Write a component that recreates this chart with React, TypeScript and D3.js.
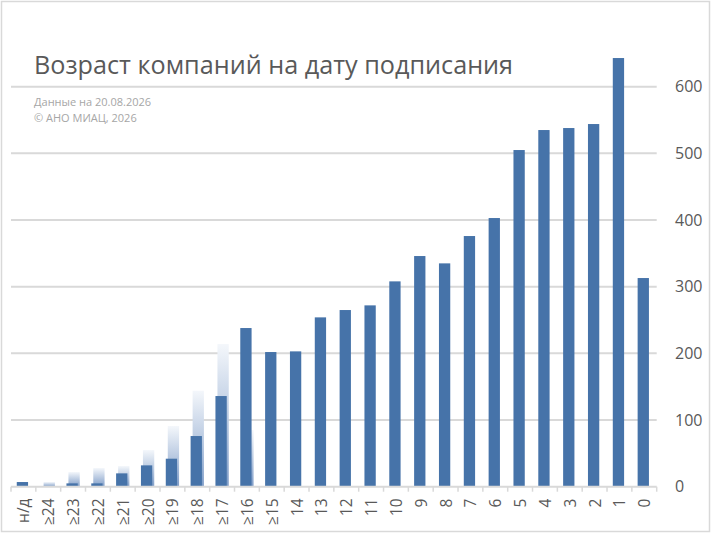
import * as d3 from "d3";
import React from "react";

// категории возраста (лет) и значения
const categories = [
  "н/д", "≥24", "≥23", "≥22", "≥21", "≥20", "≥19", "≥18", "≥17", "≥16", "≥15",
  "14", "13", "12", "11", "10", "9", "8", "7", "6", "5", "4", "3", "2", "1", "0",
];
const mainValues = [
  7, 0, 5, 5, 20, 32, 42, 76, 136, 238, 202,
  203, 254, 265, 272, 308, 346, 335, 376, 403, 505, 535, 538, 544, 643, 313,
];
const ghostValues = [
  0, 7, 22, 28, 31, 55, 91, 144, 214, 85, 0,
  0, 0, 0, 0, 0, 0, 0, 0, 0, 0, 0, 0, 0, 0, 0,
];
const yTicks = [0, 100, 200, 300, 400, 500, 600];

const W = 711;
const H = 533;
const font = "'Open Sans', 'Noto Sans', sans-serif";

export default function App() {
  const x = d3.scaleBand().domain(categories).range([11, 656.7]).padding(0);
  const y = d3.scaleLinear().domain([0, 600]).range([486.7, 86.7]);
  const step = x.step();
  const barW = 11.3;
  const base = y(0);

  return (
    <div style={{ position: "fixed", left: 0, top: 0 }}>
      <svg width={W} height={H} style={{ display: "block", background: "#fff" }}>
        <defs>
          <linearGradient id="ghost" x1="0" y1="0" x2="0" y2="1">
            <stop offset="0" stopColor="#f4f7fb" />
            <stop offset="1" stopColor="#7f9dc8" />
          </linearGradient>
        </defs>
        <rect x={1.5} y={1.5} width={W - 3} height={H - 3} fill="#fff" stroke="#d9d9d9" strokeWidth={1.5} />

        {/* сетка */}
        {yTicks.slice(1).map((t) => (
          <line key={t} x1={11} x2={656.7} y1={y(t)} y2={y(t)} stroke="#d9d9d9" strokeWidth={2} />
        ))}

        {/* подписи оси Y справа */}
        {yTicks.map((t) => (
          <text key={t} x={675} y={y(t)} dy="0.36em" fontFamily={font} fontSize={16} fill="#595959">
            {t}
          </text>
        ))}

        {/* фоновый ряд с градиентом */}
        {categories.map((c, i) =>
          ghostValues[i] > 0 ? (
            <rect
              key={"g" + c}
              x={(x(c) as number) + step / 2 + 1 - barW / 2}
              y={y(ghostValues[i])}
              width={barW}
              height={base - y(ghostValues[i])}
              fill="url(#ghost)"
            />
          ) : null
        )}

        {/* основной ряд */}
        {categories.map((c, i) =>
          mainValues[i] > 0 ? (
            <rect
              key={"m" + c}
              x={(x(c) as number) + step / 2 - 1 - barW / 2}
              y={y(mainValues[i])}
              width={barW}
              height={base - y(mainValues[i])}
              fill="#4673a9"
            />
          ) : null
        )}

        {/* ось X */}
        <line x1={11} x2={656.7} y1={base} y2={base} stroke="#d9d9d9" strokeWidth={2} />
        {d3.range(categories.length + 1).map((k) => (
          <line key={k} x1={11 + k * step} x2={11 + k * step} y1={base} y2={base + 5} stroke="#d9d9d9" strokeWidth={1.5} />
        ))}
        {categories.map((c) => (
          <text
            key={"l" + c}
            transform={`translate(${(x(c) as number) + step / 2 + 0.5},${498.5}) rotate(-90)`}
            textAnchor="end"
            dy="0.35em"
            fontFamily={font}
            fontSize={15.5}
            fill="#595959"
          >
            {c}
          </text>
        ))}

        {/* заголовок */}
        <text x={34} y={74} fontFamily={font} fontSize={25.2} fill="#595959">
          Возраст компаний на дату подписания
        </text>
        <text x={34} y={106} fontFamily={font} fontSize={11} fill="#a6a6a6">
          Данные на 20.08.2026
        </text>
        <text x={34} y={121.5} fontFamily={font} fontSize={11} fill="#a6a6a6">
          © АНО МИАЦ, 2026
        </text>
      </svg>
    </div>
  );
}
